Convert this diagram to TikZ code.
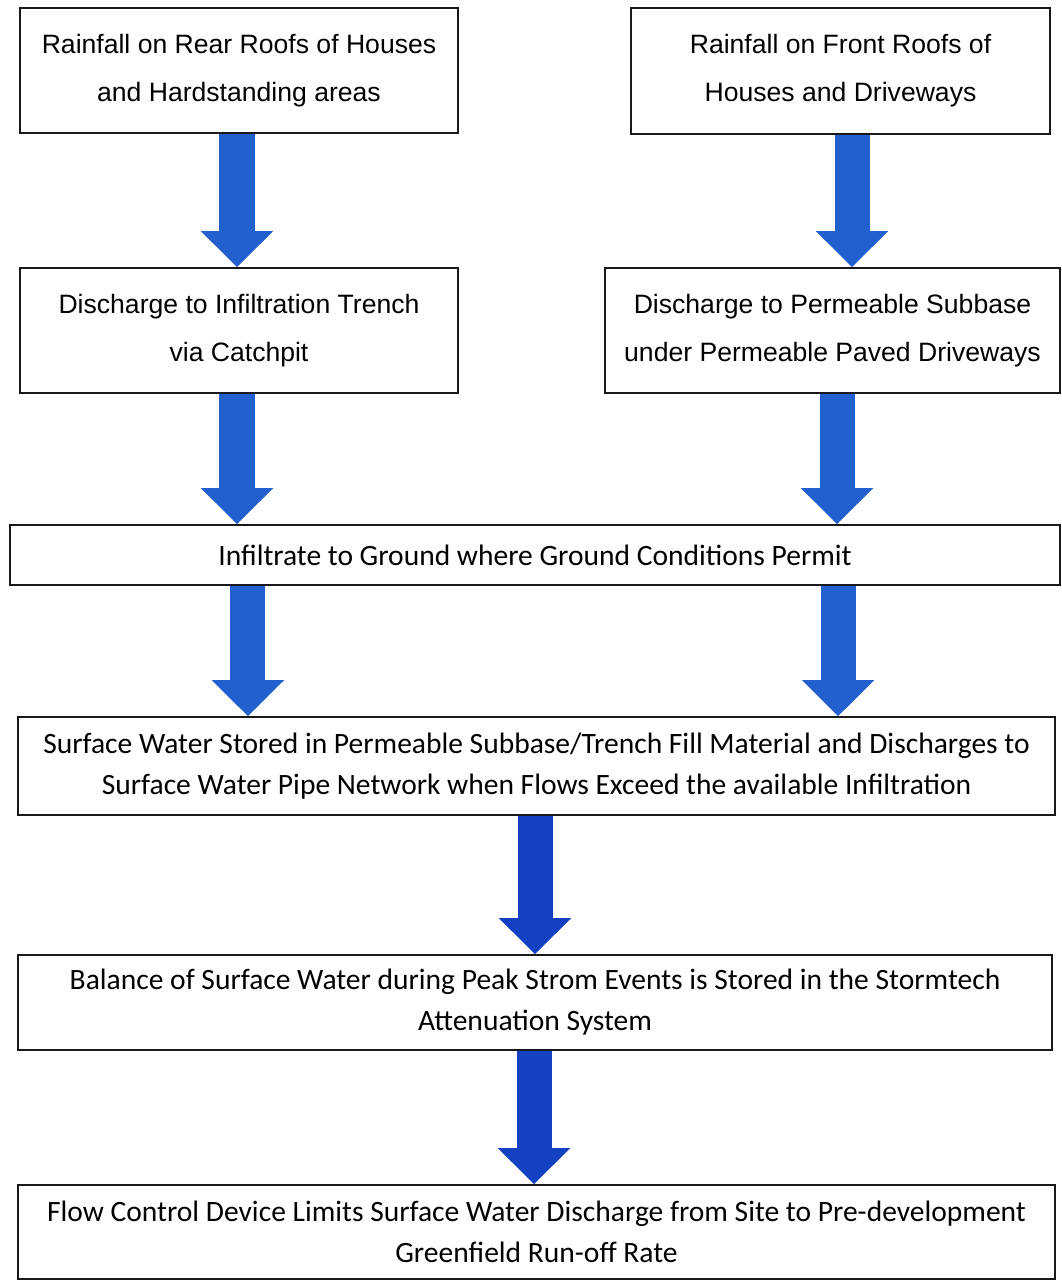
\documentclass[tikz,border=0pt]{standalone}
\usepackage{fontspec}
\setmainfont{Liberation Sans}
\newfontfamily\calfont{Carlito}
\usetikzlibrary{arrows.meta}
\definecolor{figline}{RGB}{25,25,25}
\definecolor{figflow}{RGB}{34,96,206}
\definecolor{figflowd}{RGB}{20,64,194}
\newlength\pxu
\setlength\pxu{0.025cm}
\tikzset{
  bx/.style   ={draw=figline, line width=1.1pt, align=center, inner sep=0pt, font=\fontsize{18.9}{34}\selectfont},
  bxc/.style  ={bx, font=\calfont\fontsize{21}{29.3}\selectfont},
  flow/.style ={draw=figflow, line width=0.875cm, line cap=butt, -{Triangle[length=0.9cm,width=1.75cm]}},
  flowd/.style={flow, draw=figflowd},
}
\begin{document}
\begin{tikzpicture}[x=\pxu,y=-\pxu]
  \useasboundingbox (0,0) rectangle (1062,1281);
  \node[bx,minimum width=438\pxu,minimum height=125\pxu] (rear) at (239,70.5) {Rainfall on Rear Roofs of Houses\\and Hardstanding areas};
  \node[bx,minimum width=419\pxu,minimum height=126\pxu] (front) at (840.5,71) {Rainfall on Front Roofs of\\Houses and Driveways};
  \node[bx,minimum width=438\pxu,minimum height=125\pxu] (trench) at (239,330.5) {Discharge to Infiltration Trench\\via Catchpit};
  \node[bx,minimum width=455\pxu,minimum height=125\pxu] (subbase) at (832.5,330.5) {Discharge to Permeable Subbase\\under Permeable Paved Driveways};
  \node[bxc,minimum width=1050\pxu,minimum height=60\pxu] (infil) at (535,555) {Infiltrate to Ground where Ground Conditions Permit};
  \node[bxc,minimum width=1037\pxu,minimum height=98\pxu] (stored) at (536.5,766) {Surface Water Stored in Permeable Subbase/Trench Fill Material and Discharges to\\Surface Water Pipe Network when Flows Exceed the available Infiltration};
  \node[bxc,minimum width=1034\pxu,minimum height=95\pxu] (balance) at (535,1002.5) {Balance of Surface Water during Peak Strom Events is Stored in the Stormtech\\Attenuation System};
  \node[bxc,minimum width=1037\pxu,minimum height=94\pxu] (control) at (536.5,1232) {Flow Control Device Limits Surface Water Discharge from Site to Pre-development\\Greenfield Run-off Rate};
  \draw[flow] ([xshift=-0.05cm]rear.south) -- ([xshift=-0.05cm]trench.north);
  \draw[flow] ([xshift=0.2875cm]front.south) -- ([xshift=0.2875cm]front.south |- subbase.north);
  \draw[flow] ([xshift=-0.05cm]trench.south) -- ([xshift=-0.05cm]trench.south |- infil.north);
  \draw[flow] ([xshift=0.1125cm]subbase.south) -- ([xshift=0.1125cm]subbase.south |- infil.north);
  \draw[flow] ([xshift=-7.175cm]infil.south) -- ([xshift=-7.175cm]infil.south |- stored.north);
  \draw[flow] ([xshift=7.575cm]infil.south) -- ([xshift=7.575cm]infil.south |- stored.north);
  \draw[flowd] ([xshift=-0.0375cm]stored.south) -- ([xshift=-0.0375cm]stored.south |- balance.north);
  \draw[flowd] ([xshift=-0.025cm]balance.south) -- ([xshift=-0.025cm]balance.south |- control.north);
\end{tikzpicture}
\end{document}
